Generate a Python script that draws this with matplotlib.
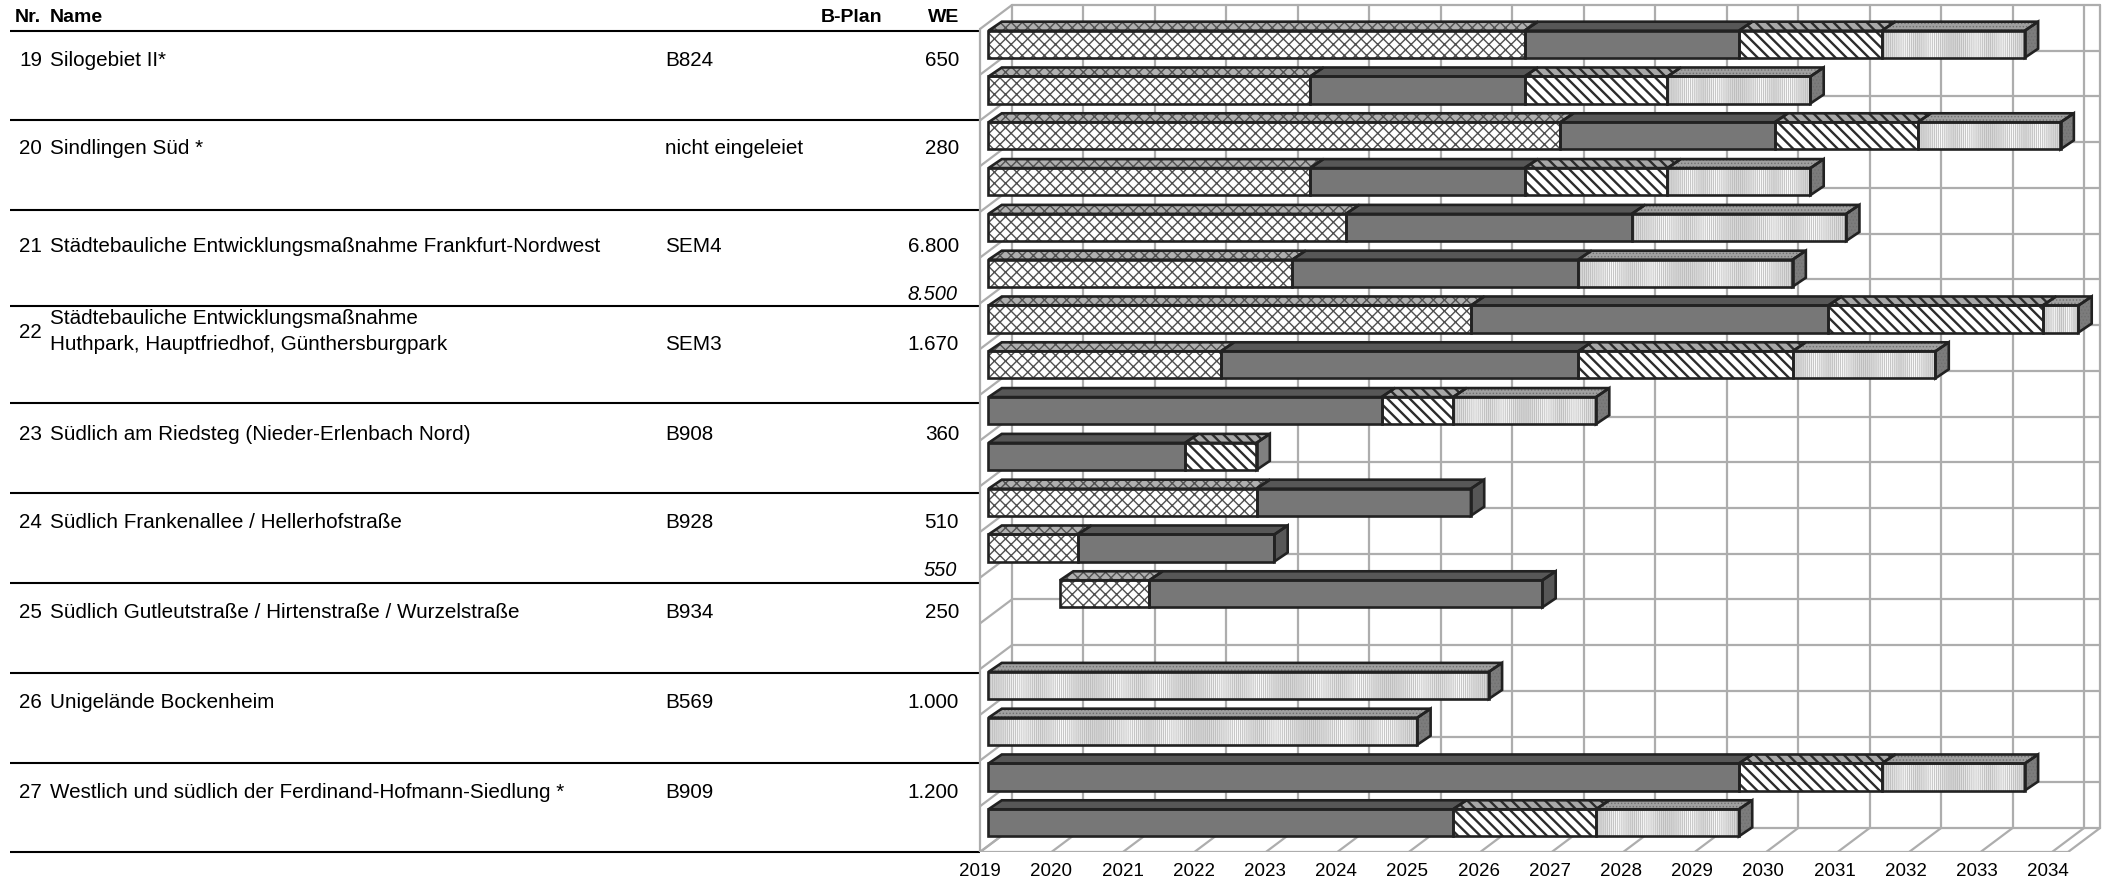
import numpy as np
import matplotlib
matplotlib.use('Agg')
import matplotlib.pyplot as plt
from matplotlib.patches import Polygon

plt.rcParams['font.family'] = ['Liberation Sans', 'DejaVu Sans']

# table
nr = ['19', '20', '21', '22', '23', '24', '25', '26', '27']
names = ['Silogebiet II*', 'Sindlingen Süd *',
         'Städtebauliche Entwicklungsmaßnahme Frankfurt-Nordwest',
         'Städtebauliche Entwicklungsmaßnahme\nHuthpark, Hauptfriedhof, Günthersburgpark',
         'Südlich am Riedsteg (Nieder-Erlenbach Nord)',
         'Südlich Frankenallee / Hellerhofstraße',
         'Südlich Gutleutstraße / Hirtenstraße / Wurzelstraße',
         'Unigelände Bockenheim',
         'Westlich und südlich der Ferdinand-Hofmann-Siedlung *']
bplan = ['B824', 'nicht eingeleiet', 'SEM4', 'SEM3', 'B908', 'B928', 'B934', 'B569', 'B909']
we = ['650', '280', '6.800', '1.670', '360', '510', '250', '1.000', '1.200']

# gantt bars, one row each, years after 2019
start = [0, 0, 0, 0, 0, 0, 0, 0, 0, 0, 0, 0, 1, 0, 0, 0, 0, 0]
phase_a = [7.5, 4.5, 8, 4.5, 5, 4.25, 6.75, 3.25, 0, 0, 3.75, 1.25, 1.25, 0, 0, 0, 0, 0]
phase_b = [3, 3, 3, 3, 4, 4, 5, 5, 5.5, 2.75, 3, 2.75, 5.5, 0, 0, 0, 10.5, 6.5]
phase_c = [2, 2, 2, 2, 0, 0, 3, 3, 1, 1, 0, 0, 0, 0, 0, 0, 2, 2]
phase_d = [2, 2, 2, 2, 3, 3, 0.5, 2, 2, 0, 0, 0, 0, 0, 7, 6, 2, 2]
years = list(range(2019, 2035))

W, H = 2114, 884
PX_YEAR = 71.47
PX_ROW = 45.8
DX = 13.3 / PX_YEAR
DY = 9 / PX_ROW
BAR_H = 0.59
EDGE = '#222222'
GRID = '#adadad'
LIGHT_BAND = [.84, .88, .93, .98, .92, .86, .91, .98, .95, .88, .84]

fig = plt.figure(figsize=(W / 100, H / 100), dpi=100)

# left table, in pixels
tab = fig.add_axes([0, 0, 980 / W, 1])
tab.set_xlim(0, 980)
tab.set_ylim(H, 0)
tab.axis('off')

rules = [31, 120, 210, 306, 403, 493, 583, 673, 763, 852]
for y in rules:
    tab.plot([10, 980], [y, y], color='black', lw=1.5, solid_capstyle='butt')

row_y = [60, 149, 246, 345, 434, 523, 613, 703, 792]
fs = 14.9
for i in range(len(nr)):
    y = row_y[i]
    if '\n' in names[i]:
        a, b = names[i].split('\n')
        tab.text(50, y - 27, a, fontsize=fs, va='center')
        tab.text(50, y, b, fontsize=fs, va='center')
        tab.text(19, y - 12, nr[i], fontsize=fs, va='center')
    else:
        tab.text(50, y, names[i], fontsize=fs, va='center')
        tab.text(19, y, nr[i], fontsize=fs, va='center')
    tab.text(665, y, bplan[i], fontsize=fs, va='center')
    tab.text(959, y, we[i], fontsize=fs, va='center', ha='right')

tab.text(15, 17, 'Nr.', fontsize=14, weight='bold', va='center')
tab.text(50, 17, 'Name', fontsize=14, weight='bold', va='center')
tab.text(882, 17, 'B-Plan', fontsize=14, weight='bold', va='center', ha='right')
tab.text(959, 17, 'WE', fontsize=14, weight='bold', va='center', ha='right')
tab.text(957, 295, '8.500', fontsize=14.4, style='italic', va='center', ha='right')
tab.text(957, 571, '550', fontsize=14.4, style='italic', va='center', ha='right')

# chart, x in years and y in rows
ax = fig.add_axes([960 / W, (H - 852) / H, (W - 960) / W, 852 / H])
x_to = lambda px: 2019 + (px - 988.5) / PX_YEAR
y_to = lambda px: (px - 44.2) / PX_ROW
ax.set_facecolor('none')
for s in ax.spines.values():
    s.set_visible(False)

# walls and floor
wx = x_to(980)
wd = 32 / PX_YEAR
yf = y_to(852)
yb = y_to(828)
yt = y_to(5)
xe = wx + (years[-1] - years[0]) + 16 / PX_YEAR
step = 823 / 18 / PX_ROW
gl = dict(color=GRID, lw=1.6, zorder=1, solid_capstyle='round')
for k in range(len(years)):
    xk = wx + k
    ax.plot([xk + wd, xk + wd], [yb, yt], **gl)
    ax.plot([xk, xk + wd], [yf, yb], **gl)
for k in range(19):
    y = yb - k * step
    ax.plot([wx + wd, xe + wd], [y, y], **gl)
    ax.plot([wx, wx + wd], [yf - k * step, y], **gl)
ax.plot([wx, xe], [yf, yf], **gl)
ax.plot([wx, wx], [yf, yf - 18 * step], **gl)
ax.plot([xe, xe + wd], [yf, yb], **gl)
ax.plot([xe + wd, xe + wd], [yb, yt], **gl)


def face(pts, fc, hatch=None, hc=EDGE, z=3, hlw=1.0):
    plt.rcParams['hatch.linewidth'] = hlw
    ax.add_patch(Polygon(pts, closed=True, facecolor=fc, edgecolor=hc, hatch=hatch, lw=0, zorder=z))
    ax.add_patch(Polygon(pts, closed=True, fill=False, edgecolor=EDGE, lw=1.9, zorder=z + 0.5))


styles = [
    dict(front='white', top='#b0b0b0', side='#808080', hatch='xxx', hc='#505050', hlw=1.0),
    dict(front='#777777', top='#575757', side='#575757', hatch=None, hc=EDGE, hlw=1.0),
    dict(front='white', top='#a8a8a8', side='#808080', hatch='\\\\\\', hc='#2c2c2c', hlw=1.7),
    dict(front=None, top='#a0a0a0', side='#7c7c7c', hatch='.....', hc='#707070', hlw=0.6),
]

for r in range(len(start)):
    parts = [phase_a[r], phase_b[r], phase_c[r], phase_d[r]]
    if sum(parts) == 0:
        continue
    x0 = 2019 + start[r]
    y1, y2 = r - BAR_H / 2, r + BAR_H / 2
    last = None
    for p, w in enumerate(parts):
        if w == 0:
            continue
        st = styles[p]
        x1 = x0 + w
        # top face first
        face([(x0, y1), (x1, y1), (x1 + DX, y1 - DY), (x0 + DX, y1 - DY)], st['top'], st['hatch'], st['hc'], hlw=st['hlw'])
        rect = [(x0, y1), (x1, y1), (x1, y2), (x0, y2)]
        if st['front'] is None:
            bands = np.tile(LIGHT_BAND, int(np.ceil(w / 1.5)))
            ax.imshow(bands[np.newaxis, :], extent=(x0, x1, y2, y1), aspect='auto', cmap='gray',
                      vmin=0, vmax=1, interpolation='bilinear', zorder=3)
            face(rect, 'none', '||||||||', '#b4b4b4', z=3.2, hlw=0.5)
        else:
            face(rect, st['front'], st['hatch'], st['hc'], z=3.2, hlw=st['hlw'])
        x0 = x1
        last = st
    face([(x0, y1), (x0 + DX, y1 - DY), (x0 + DX, y2 - DY), (x0, y2)], last['side'],
         last['hatch'] if last['hatch'] == '.....' else None, last['hc'], hlw=0.6)

ax.set_xlim(x_to(960), x_to(W))
ax.set_ylim(y_to(852), y_to(0))

# year labels sit a little tighter than the gridlines
ax.set_xticks([wx + k * 0.9965 for k in range(len(years))])
ax.set_xticklabels(years, fontsize=13.5)
ax.set_yticks([])
ax.tick_params(axis='x', length=0, pad=8)

fig.savefig('out.png', dpi=100)
